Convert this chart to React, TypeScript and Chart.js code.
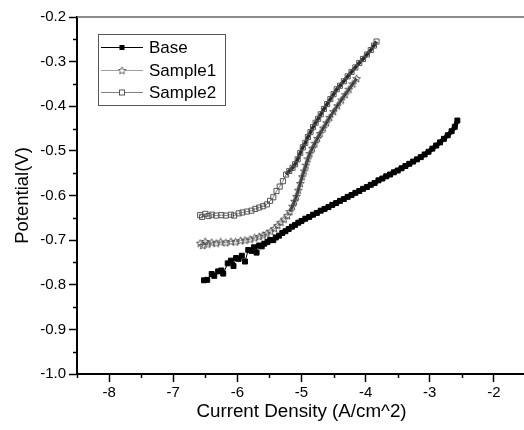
import React, { useEffect, useRef } from 'react';
import { Chart, registerables } from 'chart.js';

Chart.register(...registerables);

const SERIES_NAMES = ['Base', 'Sample1', 'Sample2'];

const X_TICKS = [-8, -7, -6, -5, -4, -3, -2];
const X_MINOR = [-8.5, -7.5, -6.5, -5.5, -4.5, -3.5, -2.5, -1.5];
const Y_TICKS = [-1.0, -0.9, -0.8, -0.7, -0.6, -0.5, -0.4, -0.3, -0.2];
const Y_MINOR = [-0.95, -0.85, -0.75, -0.65, -0.55, -0.45, -0.35, -0.25];

const BASE_X = [
  -6.52, -6.47, -6.40, -6.36, -6.30, -6.25, -6.22, -6.15, -6.10, -6.06, -6.02, -5.98, -5.93, -5.88,
  -5.83, -5.78, -5.74, -5.70, -5.66, -5.62, -5.58, -5.53, -5.49, -5.44, -5.40, -5.35, -5.30, -5.25,
  -5.20, -5.15, -5.10, -5.05, -5.00, -4.94, -4.88, -4.82, -4.76, -4.70, -4.64, -4.58, -4.52, -4.46,
  -4.40, -4.34, -4.28, -4.22, -4.16, -4.10, -4.04, -3.98, -3.92, -3.86, -3.80, -3.74, -3.68, -3.62,
  -3.56, -3.50, -3.44, -3.38, -3.32, -3.26, -3.20, -3.14, -3.08, -3.02, -2.96, -2.90, -2.84, -2.78,
  -2.72, -2.66, -2.61, -2.57,
];
const BASE_Y = [
  -0.790, -0.789, -0.776, -0.780, -0.770, -0.768, -0.775, -0.752, -0.746, -0.758, -0.740, -0.742, -0.735, -0.748,
  -0.722, -0.724, -0.716, -0.728, -0.712, -0.714, -0.708, -0.704, -0.700, -0.700, -0.694, -0.690, -0.684, -0.680,
  -0.675, -0.670, -0.666, -0.661, -0.657, -0.652, -0.648, -0.643, -0.639, -0.634, -0.630, -0.626, -0.621, -0.617,
  -0.612, -0.608, -0.603, -0.599, -0.594, -0.590, -0.585, -0.581, -0.576, -0.572, -0.566, -0.562, -0.557, -0.553,
  -0.548, -0.544, -0.539, -0.534, -0.529, -0.524, -0.519, -0.514, -0.508, -0.502, -0.495, -0.488, -0.481, -0.473,
  -0.465, -0.456, -0.446, -0.432,
];

const S1_X = [
  -6.58, -6.54, -6.50, -6.46, -6.40, -6.33, -6.26, -6.18, -6.10, -6.03, -5.95, -5.88, -5.80, -5.73,
  -5.66, -5.60, -5.54, -5.48, -5.42, -5.37, -5.32, -5.27, -5.22, -5.18, -5.14, -5.11, -5.08, -5.05,
  -5.02, -4.99, -4.96, -4.93, -4.90, -4.87, -4.83, -4.79, -4.75, -4.71, -4.66, -4.61, -4.56, -4.50,
  -4.44, -4.38, -4.32, -4.26, -4.20, -4.14,
];
const S1_Y = [
  -0.707, -0.712, -0.703, -0.709, -0.705, -0.707, -0.704, -0.706, -0.703, -0.704, -0.701, -0.700, -0.698, -0.695,
  -0.692, -0.689, -0.685, -0.680, -0.674, -0.667, -0.660, -0.653, -0.645, -0.636, -0.624, -0.613, -0.602, -0.588,
  -0.573, -0.558, -0.545, -0.532, -0.518, -0.506, -0.494, -0.483, -0.472, -0.461, -0.449, -0.437, -0.425, -0.412,
  -0.399, -0.386, -0.374, -0.362, -0.350, -0.338,
];

const S2_X = [
  -6.58, -6.55, -6.50, -6.45, -6.40, -6.33, -6.25, -6.18, -6.10, -6.05, -5.98, -5.92, -5.85, -5.78,
  -5.72, -5.66, -5.60, -5.54, -5.49, -5.44, -5.39, -5.34, -5.29, -5.24, -5.19, -5.14, -5.10, -5.06,
  -5.02, -4.98, -4.94, -4.90, -4.86, -4.82, -4.78, -4.74, -4.70, -4.65, -4.60, -4.55, -4.50, -4.45,
  -4.40, -4.34, -4.28, -4.22, -4.16, -4.10, -4.04, -3.98, -3.92, -3.87, -3.83,
];
const S2_Y = [
  -0.644, -0.648, -0.641, -0.646, -0.643, -0.645, -0.644, -0.645, -0.643, -0.645, -0.640, -0.638, -0.636, -0.634,
  -0.630, -0.627, -0.624, -0.620, -0.612, -0.604, -0.590, -0.580, -0.568, -0.553, -0.545, -0.538, -0.530, -0.519,
  -0.505, -0.492, -0.482, -0.469, -0.458, -0.447, -0.437, -0.428, -0.418, -0.406, -0.395, -0.384, -0.373, -0.362,
  -0.354, -0.344, -0.333, -0.323, -0.313, -0.303, -0.294, -0.284, -0.274, -0.264, -0.255,
];

const FONT = "'Liberation Sans', Arial, sans-serif";

function makeStar(fill: string, stroke: string): HTMLCanvasElement {
  const c = document.createElement('canvas');
  c.width = 9;
  c.height = 9;
  const g = c.getContext('2d')!;
  g.beginPath();
  for (let i = 0; i < 10; i++) {
    const r = i % 2 === 0 ? 4 : 1.8;
    const a = -Math.PI / 2 + (i * Math.PI) / 5;
    const px = 4.5 + r * Math.cos(a);
    const py = 4.8 + r * Math.sin(a);
    if (i === 0) g.moveTo(px, py);
    else g.lineTo(px, py);
  }
  g.closePath();
  if (fill) {
    g.fillStyle = fill;
    g.fill();
  }
  g.strokeStyle = stroke;
  g.lineWidth = 1;
  g.stroke();
  return c;
}

const zip = (xs: number[], ys: number[]) => xs.map((x, i) => ({ x, y: ys[i] }));

export default function App() {
  const ref = useRef<HTMLCanvasElement | null>(null);

  useEffect(() => {
    if (!ref.current) return;
    const star = makeStar('', '#555555');
    const legendStar = makeStar('#ffffff', '#666666');

    const framePlugin = {
      id: 'framePlugin',
      afterDraw(chart: any) {
        const { ctx, chartArea } = chart;
        const xs = chart.scales.x;
        const ys = chart.scales.y;
        ctx.save();
        ctx.strokeStyle = '#666666';
        ctx.lineWidth = 1.5;
        ctx.beginPath();
        ctx.moveTo(chartArea.left, chartArea.top);
        ctx.lineTo(chartArea.right, chartArea.top);
        ctx.lineTo(chartArea.right, chartArea.bottom);
        ctx.stroke();
        ctx.strokeStyle = '#000000';
        ctx.lineWidth = 1.5;
        ctx.beginPath();
        X_MINOR.forEach((v) => {
          const p = Math.round(xs.getPixelForValue(v)) + 0.5;
          ctx.moveTo(p, chartArea.bottom);
          ctx.lineTo(p, chartArea.bottom + 4);
        });
        Y_MINOR.forEach((v) => {
          const p = Math.round(ys.getPixelForValue(v)) + 0.5;
          ctx.moveTo(chartArea.left - 4, p);
          ctx.lineTo(chartArea.left, p);
        });
        ctx.stroke();

        const bx = 98, by = 34, bw = 127, bh = 71;
        ctx.fillStyle = '#ffffff';
        ctx.fillRect(bx, by, bw, bh);
        ctx.strokeStyle = '#555555';
        ctx.lineWidth = 1;
        ctx.strokeRect(bx + 0.5, by + 0.5, bw, bh);
        const rowsY = [47, 70, 92];
        const lineCols = ['#000000', '#a0a0a0', '#808080'];
        chart.data.datasets.forEach((ds: any, i: number) => {
          const y = rowsY[i] + 0.5;
          ctx.strokeStyle = lineCols[i];
          ctx.lineWidth = 1;
          ctx.beginPath();
          ctx.moveTo(101, y);
          ctx.lineTo(143, y);
          ctx.stroke();
          if (i === 0) {
            ctx.fillStyle = '#000000';
            ctx.fillRect(119.5, y - 2.5, 5, 5);
          } else if (i === 2) {
            ctx.fillStyle = '#ffffff';
            ctx.fillRect(119.5, y - 2.5, 5, 5);
            ctx.strokeStyle = '#555555';
            ctx.strokeRect(119.5, y - 2.5, 5, 5);
          } else {
            ctx.drawImage(legendStar, 122 - 4.5, y - 4.5);
          }
          ctx.fillStyle = '#000000';
          ctx.font = `17px ${FONT}`;
          ctx.textBaseline = 'middle';
          ctx.textAlign = 'left';
          ctx.fillText(ds.label, 149, y + 1);
        });
        ctx.restore();
      },
    };

    const chart = new Chart(ref.current, {
      type: 'scatter',
      data: {
        datasets: [
          {
            label: SERIES_NAMES[0],
            data: zip(BASE_X, BASE_Y),
            showLine: true,
            borderColor: '#000000',
            borderWidth: 1,
            segment: {
              borderWidth: (c: any) => (c.p0.parsed.x > -5.06 ? 4.5 : 1),
            },
            pointStyle: 'rect',
            pointRadius: 3.5,
            pointBackgroundColor: '#000000',
            pointBorderColor: '#000000',
            pointBorderWidth: 1,
          },
          {
            label: SERIES_NAMES[1],
            data: zip(S1_X, S1_Y),
            showLine: true,
            borderColor: '#a0a0a0',
            borderWidth: 1,
            segment: {
              borderWidth: (c: any) => (c.p0.parsed.x > -5.2 ? 3 : 1),
              borderColor: (c: any) => (c.p0.parsed.x > -5.2 ? '#3a3a3a' : '#a0a0a0'),
            },
            pointStyle: star as any,
            pointRadius: 4,
          },
          {
            label: SERIES_NAMES[2],
            data: zip(S2_X, S2_Y),
            showLine: true,
            borderColor: '#808080',
            borderWidth: 1,
            segment: {
              borderWidth: (c: any) => (c.p0.parsed.x > -5.25 ? 3.5 : 1),
              borderColor: (c: any) => (c.p0.parsed.x > -5.25 ? '#2a2a2a' : '#808080'),
            },
            pointStyle: 'rect',
            pointRadius: 3.6,
            pointBackgroundColor: 'rgba(255,255,255,0)',
            pointBorderColor: '#555555',
            pointBorderWidth: 1,
          },
        ],
      },
      options: {
        animation: false,
        responsive: false,
        maintainAspectRatio: false,
        devicePixelRatio: 1,
        layout: { padding: { left: 0, top: 17, right: 14, bottom: 0 } },
        plugins: {
          legend: { display: false },
          tooltip: { enabled: false },
        },
        scales: {
          x: {
            type: 'linear',
            min: -8.5,
            max: -1.5,
            afterBuildTicks: (s: any) => {
              s.ticks = X_TICKS.map((v) => ({ value: v }));
            },
            afterFit: (s: any) => {
              s.height = 56;
            },
            grid: {
              display: true,
              drawOnChartArea: false,
              drawTicks: true,
              tickLength: 8,
              tickColor: '#000000',
              tickWidth: 1.5,
            },
            border: { display: true, color: '#000000', width: 2 },
            ticks: {
              color: '#000000',
              font: { family: FONT, size: 15 },
              padding: 2,
              maxRotation: 0,
              callback: (v: any) => String(v),
            },
            title: {
              display: true,
              text: 'Current Density (A/cm^2)',
              color: '#000000',
              font: { family: FONT, size: 18.8 },
              padding: { top: 0, bottom: 7 },
            },
          },
          y: {
            type: 'linear',
            min: -1.0,
            max: -0.2,
            afterBuildTicks: (s: any) => {
              s.ticks = Y_TICKS.map((v) => ({ value: v }));
            },
            afterFit: (s: any) => {
              s.width = 77;
            },
            grid: {
              display: true,
              drawOnChartArea: false,
              drawTicks: true,
              tickLength: 8,
              tickColor: '#000000',
              tickWidth: 1.5,
            },
            border: { display: true, color: '#000000', width: 2 },
            ticks: {
              color: '#000000',
              font: { family: FONT, size: 15 },
              padding: 3,
              callback: (v: any) => Number(v).toFixed(1),
            },
            title: {
              display: true,
              text: 'Potential(V)',
              color: '#000000',
              font: { family: FONT, size: 18.5 },
              padding: { top: 12, bottom: 0 },
            },
          },
        },
      },
      plugins: [framePlugin],
    });

    return () => chart.destroy();
  }, []);

  return (
    <div
      style={{
        position: 'fixed',
        left: 0,
        top: 0,
        width: 524,
        height: 430,
        overflow: 'hidden',
        background: '#ffffff',
      }}
    >
      <canvas ref={ref} width={540} height={430} style={{ width: 540, height: 430, display: 'block' }} />
    </div>
  );
}
